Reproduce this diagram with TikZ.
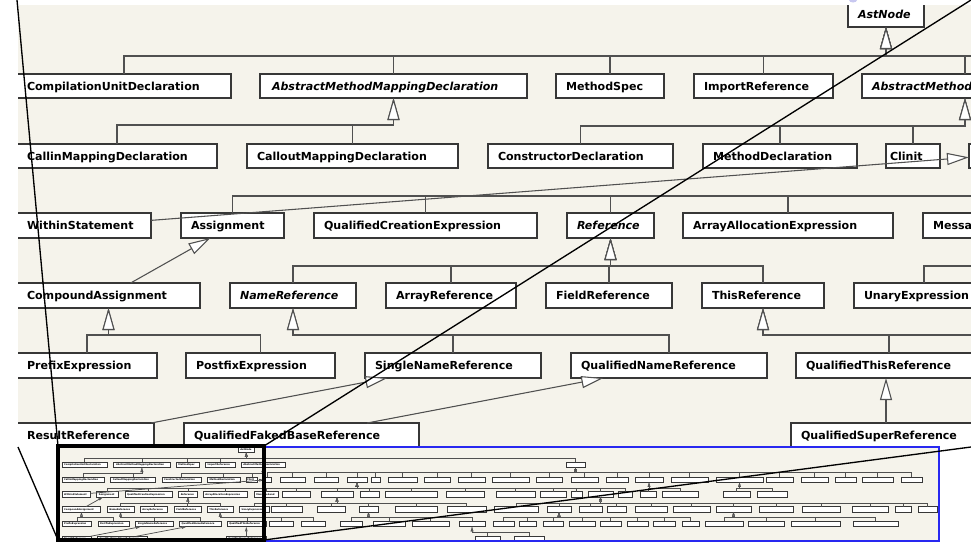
\documentclass[tikz,border=0pt]{standalone}
\usepackage{fontspec}
\newfontfamily\umlfont{DejaVu Sans}
\usetikzlibrary{arrows.meta}

\definecolor{canvasbg}{RGB}{245,243,235}
\definecolor{boxline}{RGB}{55,55,55}
\definecolor{linkline}{RGB}{80,80,80}
\definecolor{overviewblue}{RGB}{40,40,240}
\definecolor{lavender}{RGB}{200,200,240}

\def\umllw{0.8pt}
\tikzset{
  x=0.75pt, y=-0.75pt,
  umlbox/.style={draw=boxline, fill=white, line width=\umllw, outer sep=0pt, inner ysep=0pt,
    font={\umlfont\bfseries\fontsize{8.3pt}{10pt}\selectfont}, text height=8pt, text depth=2pt, align=left},
  inh/.style={draw=linkline, line width=\umllw, -{Triangle[length=16.5pt, width=9pt, fill=white]}},
  lens/.style={draw=black, line width=1pt},
}

% class box: [text padding] name, x1, y1, x2, y2, label (pixel units, y downwards)
\newcommand\umlclass[7][10]{%
  \pgfmathsetmacro\ubw{(#5-#3)*0.75}%
  \pgfmathsetmacro\ubh{(#6-#4)*0.75}%
  \pgfmathsetmacro\ubtw{(#5-#3-2*#1)*0.75}%
  \pgfmathsetmacro\ubpad{#1*0.75}%
  \node[umlbox, anchor=north west, minimum width=\ubw pt, minimum height=\ubh pt,
        text width=\ubtw pt, inner xsep=\ubpad pt] (#2) at (#3,#4) {#7};}

% unlabelled box given in overview coordinates
\newcommand\xtra[5]{%
  \pgfmathsetmacro\xa{(#2-58.46)/0.212}%
  \pgfmathsetmacro\xb{(#3-58.46)/0.212}%
  \umlclass{#1}{\xa}{#4}{\xb}{#5}{}}

% generalisation bus: parent, bus height, children
\newcommand\kids[3]{%
  \coordinate (kidbus) at (0,#2);
  \foreach \kid in {#3} {\draw[inh] (\kid.north) |- (#1.south |- kidbus) -- (#1.south);}}

\newcommand\drawdiagram{%
  % level 0
  \umlclass{astnode}{848}{2}{924}{27}{\itshape AstNode}
  % level 1
  \umlclass{cud}{17}{74}{231}{98}{CompilationUnitDeclaration}
  \umlclass[12]{ammd}{260}{74}{527}{98}{\itshape AbstractMethodMappingDeclaration}
  \umlclass{mspec}{556}{74}{664}{98}{MethodSpec}
  \umlclass{impref}{694}{74}{833}{98}{ImportReference}
  \umlclass{amd}{862}{74}{1068}{98}{\itshape AbstractMethodDeclaration}
  \xtra{stmt}{566}{585}{74}{98}
  % level 2
  \umlclass{cmd1}{17}{144}{217}{168}{CallinMappingDeclaration}
  \umlclass{cmd2}{247}{144}{458}{168}{CalloutMappingDeclaration}
  \umlclass{ctor}{488}{144}{673}{168}{ConstructorDeclaration}
  \umlclass{mdecl}{703}{144}{857}{168}{MethodDeclaration}
  \umlclass[4]{clinit}{886}{144}{940}{168}{Clinit}
  \umlclass{block}{969}{144}{1003}{168}{}
  \xtra{sa}{280}{305}{144}{168}   \xtra{sb}{314}{338}{144}{168}
  \xtra{expr}{347}{367}{144}{168} \xtra{sc}{371}{380}{144}{168}
  \xtra{sd}{388}{417}{144}{168}   \xtra{se}{424}{450}{144}{168}
  \xtra{sf}{458}{485}{144}{168}   \xtra{sg}{492}{529}{144}{168}
  \xtra{sh}{536}{562}{144}{168}   \xtra{si}{571}{598}{144}{168}
  \xtra{sj}{606}{628}{144}{168}   \xtra{tdecl}{635}{663}{144}{168}
  \xtra{sk}{671}{708}{144}{168}   \xtra{avd}{716}{763}{144}{168}
  \xtra{sl}{766}{793}{144}{168}   \xtra{sm}{801}{828}{144}{168}
  \xtra{sn}{835}{856}{144}{168}   \xtra{so}{862}{893}{144}{168}
  \xtra{sp}{901}{922}{144}{168}
  % level 3
  \umlclass{within}{17}{213}{151}{238}{WithinStatement}
  \umlclass{assign}{181}{213}{284}{238}{Assignment}
  \umlclass{qce}{314}{213}{537}{238}{QualifiedCreationExpression}
  \umlclass{ref}{567}{213}{654}{238}{\itshape Reference}
  \umlclass{aae}{683}{213}{893}{238}{ArrayAllocationExpression}
  \umlclass{msend}{923}{213}{1036}{238}{MessageSend}
  \xtra{ea}{282}{310}{213}{238}   \xtra{opexpr}{321}{353}{213}{238}
  \xtra{eb}{360}{379}{213}{238}   \xtra{ec}{385}{437}{213}{238}
  \xtra{ed}{446}{484}{213}{238}   \xtra{ee}{496}{535}{213}{238}
  \xtra{ef}{540}{566}{213}{238}   \xtra{lit}{571}{582}{213}{238}
  \xtra{tref}{588}{613}{213}{238} \xtra{eg}{618}{632}{213}{238}
  \xtra{ta}{640}{656}{213}{238}   \xtra{tb}{662}{698}{213}{238}
  \xtra{va}{723}{750}{213}{238}   \xtra{vb}{757}{787}{213}{238}
  % level 4
  \umlclass{compound}{17}{283}{200}{308}{CompoundAssignment}
  \umlclass{nameref}{230}{283}{356}{308}{\itshape NameReference}
  \umlclass{arrref}{386}{283}{516}{308}{ArrayReference}
  \umlclass{fieldref}{546}{283}{672}{308}{FieldReference}
  \umlclass{thisref}{702}{283}{824}{308}{ThisReference}
  \umlclass{unary}{854}{283}{994}{308}{UnaryExpression}
  \xtra{ua}{271}{302}{283}{308}   \xtra{ub}{317}{345}{283}{308}
  \xtra{uc}{359}{378}{283}{308}   \xtra{ud}{395}{437}{283}{308}
  \xtra{ue}{447}{486}{283}{308}
  \xtra{wa}{494}{538}{283}{308}   \xtra{wb}{547}{571}{283}{308}
  \xtra{wc}{579}{602}{283}{308}   \xtra{wd}{607}{626}{283}{308}
  \xtra{we}{635}{667}{283}{308}   \xtra{wf}{673}{710}{283}{308}
  \xtra{wg}{716}{751}{283}{308}   \xtra{wh}{759}{793}{283}{308}
  \xtra{wi}{802}{840}{283}{308}   \xtra{wj}{852}{888}{283}{308}
  \xtra{wk}{895}{911}{283}{308}   \xtra{wl}{918}{937}{283}{308}
  % level 5
  \umlclass{prefix}{17}{353}{157}{378}{PrefixExpression}
  \umlclass{postfix}{186}{353}{335}{378}{PostfixExpression}
  \umlclass{snr}{365}{353}{541}{378}{SingleNameReference}
  \umlclass{qnr}{571}{353}{767}{378}{QualifiedNameReference}
  \umlclass{qtr}{796}{353}{982}{378}{QualifiedThisReference}
  \xtra{qa}{269}{293}{353}{378}   \xtra{qb}{301}{325}{353}{378}
  \xtra{pa}{340}{362}{353}{378}   \xtra{pb}{373}{405}{353}{378}
  \xtra{pc}{412}{449}{353}{378}   \xtra{pd}{459}{485}{353}{378}
  \xtra{na}{493}{514}{353}{378}   \xtra{nb}{519}{536}{353}{378}
  \xtra{nc}{543}{563}{353}{378}   \xtra{nd}{569}{595}{353}{378}
  \xtra{ne}{600}{621}{353}{378}   \xtra{nf}{627}{648}{353}{378}
  \xtra{ng}{653}{675}{353}{378}   \xtra{nh}{682}{699}{353}{378}
  \xtra{aa}{705}{743}{353}{378}   \xtra{ab}{748}{784}{353}{378}
  \xtra{ac}{791}{840}{353}{378}   \xtra{ad}{853}{898}{353}{378}
  % level 6
  \umlclass{resref}{17}{423}{154}{448}{ResultReference}
  \umlclass{qfbr}{184}{423}{419}{448}{QualifiedFakedBaseReference}
  \umlclass{qsr}{791}{423}{981}{448}{QualifiedSuperReference}
  \xtra{za}{475}{500}{423}{448}   \xtra{zb}{514}{544}{423}{448}
  % generalisations
  \kids{astnode}{56}{cud,ammd,mspec,impref,amd,stmt}
  \kids{ammd}{125}{cmd1,cmd2}
  \kids{amd}{126}{ctor,mdecl,clinit}
  \kids{stmt}{122}{block,sa,sb,expr,sc,sd,se,sf,sg,sh,si,sj,tdecl,sk,avd,sl,sm,sn,so,sp}
  \kids{expr}{196}{assign,qce,ref,aae,msend,ea,opexpr,eb,ec,ed,ee,ef,lit,tref,eg}
  \kids{tdecl}{196}{ta,tb}
  \kids{avd}{196}{va,vb}
  \kids{ref}{266}{nameref,arrref,fieldref,thisref}
  \kids{opexpr}{266}{unary,ua,ub,uc,ud,ue}
  \kids{tref}{266}{wa,wb,wc,wd,we,wf,wg,wh,wi,wj,wk,wl}
  \kids{compound}{335}{prefix,postfix}
  \kids{nameref}{335}{snr,qnr}
  \kids{thisref}{335}{qtr,qa,qb}
  \kids{uc}{335}{pa,pb,pc,pd}
  \kids{wb}{335}{na,nb,nc,nd,ne,nf,ng,nh}
  \kids{wg}{335}{aa,ab,ac,ad}
  \kids{pd}{405}{za,zb}
  \draw[inh] (within) -- (block);
  \draw[inh] (compound) -- (assign);
  \draw[inh] (resref) -- (snr);
  \draw[inh] (qfbr) -- (qnr);
  \draw[inh] (qsr.north) -- (qsr.north |- qtr.south);
}

\begin{document}
\begin{tikzpicture}
  \useasboundingbox[fill=white] (0,0) rectangle (971,543);
  % detail view
  \fill[canvasbg] (18,5) rectangle (971,446);
  \begin{scope}
    \clip (18,5) rectangle (971,446);
    \drawdiagram
  \end{scope}
  % edge of a lavender marker above the view
  \fill[lavender] (853,0) ellipse [x radius=4, y radius=2.5];
  % overview
  \fill[canvasbg] (58,447) rectangle (939,541);
  \begin{scope}
    \clip (58,447) rectangle (939,541);
    \begin{scope}[transform canvas={shift={(58.46,446.6)}, scale=0.212}]
      \def\umllw{2.6pt}
      \drawdiagram
    \end{scope}
  \end{scope}
  \draw[overviewblue, line width=1.5pt] (58,447) rectangle (939,541);
  \draw[black, line width=2.3pt] (58,446) rectangle (264,540);
  % magnifier guides
  \coordinate (mainNW) at (17,0);
  \coordinate (mainSW) at (18,447);
  \coordinate (mainNE) at (971,0);
  \coordinate (mainSE) at (971,447);
  \coordinate (portNW) at (58,446);
  \coordinate (portSW) at (58,540);
  \coordinate (portNE) at (264,446);
  \coordinate (portSE) at (264,540);
  \draw[lens] (mainNW) -- (portNW);
  \draw[lens] (mainSW) -- (portSW);
  \draw[lens] (mainNE) -- (portNE);
  \draw[lens] (mainSE) -- (portSE);
\end{tikzpicture}
\end{document}
